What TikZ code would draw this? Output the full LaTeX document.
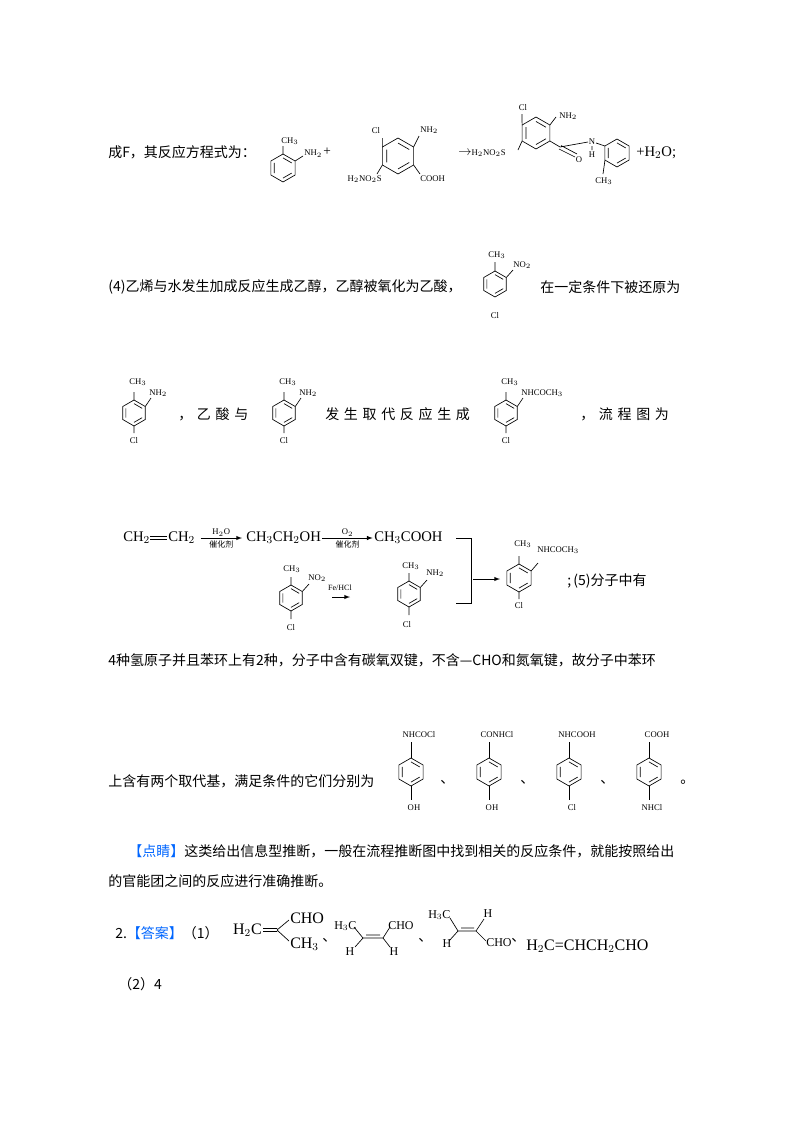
\documentclass[tikz,border=0pt]{standalone}
\usepackage{fontspec}
\setmainfont{Liberation Serif}
\newfontfamily\cjk{Noto Sans CJK SC}
\begin{document}
\begin{tikzpicture}[x=0.75pt,y=-0.75pt,
  ring/.style={line width=0.5pt},
  bd/.style={line width=0.5pt},
  lab/.style={font=\fontsize{6.5}{7}\selectfont,inner sep=0},
  txt/.style={font=\cjk\fontsize{10.5}{12}\selectfont,inner sep=0,anchor=west},
  big/.style={font=\fontsize{12}{13}\selectfont,inner sep=0,anchor=west},
  mid/.style={font=\fontsize{11}{12}\selectfont,inner sep=0,anchor=west},
  sm/.style={font=\fontsize{9}{9}\selectfont,inner sep=0}]
\newcommand\hexa[3]{\draw[ring] (#1,#2)+(90:#3)--+(30:#3)--+(-30:#3)--+(-90:#3)--+(-150:#3)--+(150:#3)--cycle;
 \draw[ring] (#1,#2)+(90:0.72*#3)--+(30:0.72*#3) (#1,#2)+(-30:0.72*#3)--+(-90:0.72*#3) (#1,#2)+(-150:0.72*#3)--+(150:0.72*#3);}
\useasboundingbox (0,0) rectangle (800,1132);
\fill[white] (0,0) rectangle (800,1132);
% ---------- line 1
\node[txt] (t1) at (108,152) {成F，其反应方程式为：};
\hexa{283}{168}{14}
\draw[bd] (283,154)--(283,146) (295.1,161)--(303,156);
\node[lab] (a1) at (290,141) {CH$_3$};
\node[lab,anchor=west] (a2) at (304,153) {NH$_2$\,{\normalsize +}};
\hexa{398}{156}{18}
\draw[bd] (382.4,147)--(382.4,138) (413.6,147)--(419,136) (382.4,165)--(377,174) (413.6,165)--(420,174);
\node[lab] (b1) at (376,131) {Cl};
\node[lab,anchor=west] (b2) at (420,130) {NH$_2$};
\node[lab,anchor=east] (b3) at (382,179) {H$_2$NO$_2$S};
\node[lab,anchor=west] (b4) at (420,179) {COOH};
\node[lab,anchor=west] (c0) at (458,153) {{\normalsize$\rightarrow$}H$_2$NO$_2$S};
\hexa{536}{133}{16}
\draw[bd] (522.1,125)--(522,114) (549.9,125)--(556,117) (522.1,141)--(518,150) (549.9,141)--(560,147) (560,147)--(588,142) (559,149)--(575,157) (561,145.5)--(577,154) (592,146)--(592,150) (596,143)--(604.9,146);
\node[lab] (c1) at (523,108) {Cl};
\node[lab,anchor=west] (c2) at (559,116) {NH$_2$};
\node[lab] (c3) at (579,160) {O};
\node[lab] (c4) at (592,142) {N};
\node[lab] (c5) at (592,155) {H};
\hexa{617}{153}{14}
\draw[bd] (605,160)--(603,174);
\node[lab] (c6) at (604,181) {CH$_3$};
\node[mid] (c7) at (636,153) {+H$_2$O;};
% ---------- line (4)
\node[txt] (t2) at (108,287) {(4)乙烯与水发生加成反应生成乙醇，乙醇被氧化为乙酸，};
\hexa{495}{284}{13}
\draw[bd] (495,271)--(495,262) (506.3,277.5)--(513,270);
\node[lab] (d1) at (497,255) {CH$_3$};
\node[lab,anchor=west] (d2) at (513,265) {NO$_2$};
\node[lab] (d3) at (495,316) {Cl};
\node[txt] (t3) at (540,287) {在一定条件下被还原为};
% ---------- line 3
\foreach \cx/\nm in {134/NH$_2$,284/NH$_2$,506/NHCOCH$_3$}{
 \hexa{\cx}{413}{13}
 \draw[bd] (\cx,400)--(\cx,392) (\cx+11.3,406.5)--(\cx+17,398) (\cx,426)--(\cx,433);
 \node[lab] at (\cx+4,382) {CH$_3$};
 \node[lab,anchor=west] at (\cx+15,393) {\nm};
 \node[lab] at (\cx,441) {Cl};
}
\node[txt] (t4) at (178,414) {，\,\,乙\,\,酸\,\,与};
\node[txt] (t5) at (325,414) {发\,\,生\,\,取\,\,代\,\,反\,\,应\,\,生\,\,成};
\node[txt] (t6) at (580,414) {，\,\,流\,\,程\,\,图\,\,为};
% ---------- flow
\node[mid] (f0) at (123,538) {CH$_2$};
\node[mid] (f1) at (168,538) {CH$_2$};
\draw[bd] (150,536.5)--(167,536.5) (150,539.5)--(167,539.5);
\node[mid] (f2) at (246,538) {CH$_3$CH$_2$OH};
\node[mid] (f3) at (374,538) {CH$_3$COOH};
\draw[-latex,bd] ([xshift=4pt]f1.east) -- ([xshift=-3pt]f2.west) node[midway,above=1pt,lab] {H$_2$O} node[midway,below=2pt,lab,font=\cjk\fontsize{6}{6}\selectfont] {催化剂};
\draw[-latex,bd] ([xshift=1pt]f2.east) -- ([xshift=-1pt]f3.west) node[midway,above=1pt,lab] {O$_2$} node[midway,below=2pt,lab,font=\cjk\fontsize{6}{6}\selectfont] {催化剂};
\coordinate (k1) at (456,538); \coordinate (k2) at (471,538); \coordinate (k3) at (471,603); \coordinate (k4) at (456,603);
\draw[bd] (k1)--(k2)--(k3)--(k4);
\coordinate (m1) at (473,579); \coordinate (m2) at (500,579);
\draw[-latex,bd] (m1)--(m2);
\hexa{291}{598}{13}
\draw[bd] (291,585)--(291,577) (302.3,591.5)--(309,584) (291,611)--(291,619);
\node[lab] at (292,569) {CH$_3$};
\node[lab,anchor=west] at (308,578) {NO$_2$};
\node[lab] at (291,628) {Cl};
\node[lab,font=\fontsize{6}{6}\selectfont] at (340,588) {Fe/HCl};
\coordinate (n1) at (332,597); \coordinate (n2) at (350,597);
\draw[-latex,bd] (n1)--(n2);
\hexa{409}{594}{13}
\draw[bd] (409,581)--(409,573) (420.3,587.5)--(427,580) (409,607)--(409,615);
\node[lab] at (411,566) {CH$_3$};
\node[lab,anchor=west] at (426,573) {NH$_2$};
\node[lab] at (407,625) {Cl};
\hexa{519}{578}{14}
\draw[bd] (519,564)--(519,556) (531.1,571)--(538,563) (519,592)--(519,599);
\node[lab] at (523,544) {CH$_3$};
\node[lab,anchor=west] at (537,550) {NHCOCH$_3$};
\node[lab] at (519,606) {Cl};
\node[txt] (t7) at (567,581) {;\,(5)分子中有};
% ---------- (5)
\node[txt] (t8) at (108,660) {4种氢原子并且苯环上有2种，分子中含有碳氧双键，不含—CHO和氮氧键，故分子中苯环};
\node[txt] (t9) at (108,781) {上含有两个取代基，满足条件的它们分别为};
\foreach \cx/\tp/\bt in {411/NHCOCl/OH,489/CONHCl/OH,569/NHCOOH/Cl,649/COOH/NHCl}{
 \hexa{\cx}{772}{14}
 \draw[bd] (\cx,758)--(\cx,742) (\cx,786)--(\cx,800);
 \node[lab] at (\cx+8,735) {\tp};
 \node[lab] at (\cx+3,808) {\bt};
}
\node[txt] at (440,782) {、};
\node[txt] at (520,782) {、};
\node[txt] at (600,782) {、};
\node[txt] at (680,782) {。};
% ---------- 点睛
\node[txt] (t10) at (128,851) {{\color{blue!60!cyan}【点睛】}这类给出信息型推断，一般在流程推断图中找到相关的反应条件，就能按照给出};
\node[txt] (t11) at (108,881) {的官能团之间的反应进行准确推断。};
% ---------- 2.
\node[txt] (t12) at (115,933) {2.{\color{blue!60!cyan}【答案】}（1）};
\node[big,anchor=east] (g1) at (262,930) {H$_2$C};
\draw[bd] (263,928.5)--(277,928.5) (263,931.5)--(277,931.5) (277,930)--(289,920) (277,930)--(289,941);
\node[big] at (290,918) {CHO};
\node[big] at (290,944) {CH$_3$};
\node[txt] at (322,940) {、};
\node[sm,anchor=west] at (334,926) {H$_3$C};
\draw[bd] (354,927)--(363,938) (363,938)--(383,938) (366,935)--(380,935) (383,938)--(390,927) (363,938)--(355,947) (383,938)--(390,947);
\node[sm,anchor=west] at (388,926) {CHO};
\node[sm] at (350,952) {H};
\node[sm] at (394,952) {H};
\node[txt] at (418,940) {、};
\node[sm,anchor=west] at (428,915) {H$_3$C};
\draw[bd] (450,918)--(458,931) (458,931)--(476,931) (461,928)--(474,928) (476,931)--(484,919) (458,931)--(449,941) (476,931)--(486,941);
\node[sm] at (488,914) {H};
\node[sm] at (447,944) {H};
\node[sm,anchor=west] at (486,943) {CHO};
\node[txt] at (511,940) {、};
\node[big] at (526,946) {H$_2$C=CHCH$_2$CHO};
\node[txt] (t13) at (118,984) {（2）4};
\end{tikzpicture}
\end{document}
